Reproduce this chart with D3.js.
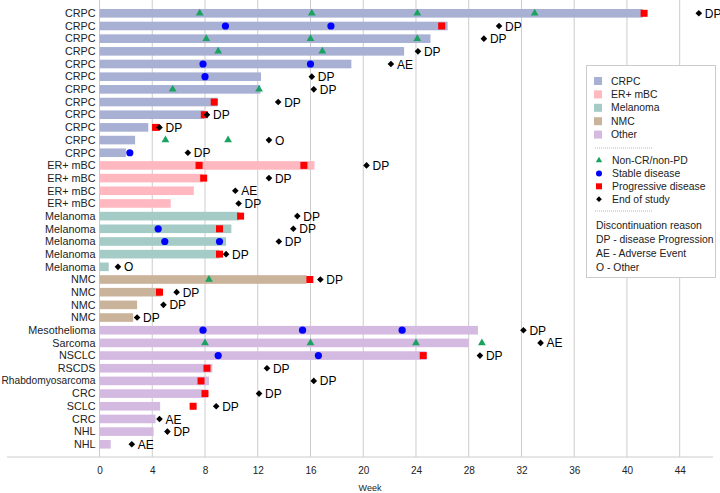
<!DOCTYPE html>
<html><head><meta charset="utf-8">
<script src="https://cdn.jsdelivr.net/npm/d3@7"></script>
<style>body{margin:0;background:#fff;}svg{display:block;font-family:"Liberation Sans",Arial,sans-serif;}</style>
</head><body><svg id="c" width="720" height="493"></svg>
<script>
const labels = ["CRPC","CRPC","CRPC","CRPC","CRPC","CRPC","CRPC","CRPC","CRPC","CRPC","CRPC","CRPC",
 "ER+ mBC","ER+ mBC","ER+ mBC","ER+ mBC",
 "Melanoma","Melanoma","Melanoma","Melanoma","Melanoma",
 "NMC","NMC","NMC","NMC",
 "Mesothelioma","Sarcoma","NSCLC","RSCDS","Rhabdomyosarcoma","CRC","SCLC","CRC","NHL","NHL"];
const groups = ["CRPC","CRPC","CRPC","CRPC","CRPC","CRPC","CRPC","CRPC","CRPC","CRPC","CRPC","CRPC",
 "ER+ mBC","ER+ mBC","ER+ mBC","ER+ mBC",
 "Melanoma","Melanoma","Melanoma","Melanoma","Melanoma",
 "NMC","NMC","NMC","NMC",
 "Other","Other","Other","Other","Other","Other","Other","Other","Other","Other"];
const barEnd = [41.2,26.4,25.1,23.1,19.1,12.25,12.2,8.95,7.95,3.7,2.7,2.0,
 16.3,7.85,7.15,5.4,
 10.6,10.0,9.6,9.1,0.7,
 15.7,4.7,2.85,2.55,
 28.7,28.0,24.8,8.55,8.3,8.2,4.6,4.25,4.1,0.85];
const triangles = [[7.6,16.1,24.1,33.0],[],[8.1,16.0,24.1],[9.0,16.9],[],[],[5.55,12.1],[],[],[],[5.0,9.75],[],
 [],[],[],[],
 [],[],[],[],[],
 [8.3],[],[],[],
 [],[8.0,16.0,24.0,29.0],[],[],[],[],[],[],[],[]];
const circles = [[],[9.55,17.55],[],[],[7.85,16.0],[8.0],[],[],[],[],[],[2.3],
 [],[],[],[],
 [],[4.45],[4.95,9.1],[],[],
 [],[],[],[],
 [7.85,15.4,22.95],[],[9.0,16.6],[],[],[],[],[],[],[]];
const squares = [[41.3],[25.95],[],[],[],[],[],[8.7],[7.95],[4.25],[],[],
 [7.55,15.5],[7.9],[],[],
 [10.7],[9.1],[],[9.1],[],
 [15.95],[4.55],[],[],
 [],[],[24.55],[8.15],[7.7],[8.0],[7.1],[],[],[]];
const endWeek = [45.45,30.3,29.15,24.15,22.1,16.1,16.25,13.55,8.15,4.55,12.85,6.7,
 20.25,12.85,10.3,10.55,
 15.0,14.7,13.6,9.6,1.4,
 16.75,5.85,4.85,2.85,
 32.15,33.45,28.85,12.7,16.25,12.1,8.85,4.55,5.15,2.45];
const endReason = ["DP","DP","DP","DP","AE","DP","DP","DP","DP","DP","O","DP",
 "DP","DP","AE","DP",
 "DP","DP","DP","DP","O",
 "DP","DP","DP","DP",
 "DP","AE","DP","DP","DP","DP","DP","AE","DP","AE"];
const xTicks = [0,4,8,12,16,20,24,28,32,36,40,44];
const groupNames = ["CRPC","ER+ mBC","Melanoma","NMC","Other"];
const groupColors = ["#a8b0d4","#ffb8c0","#a4cbc6","#c9b39b","#d4b9e1"];
const markerLegend = ["Non-CR/non-PD","Stable disease","Progressive disease","End of study"];
const reasonLegend = ["Discontinuation reason","DP - disease Progression","AE - Adverse Event","O - Other"];

const svg = d3.select("#c");
const x = d3.scaleLinear().domain([0,44]).range([99.5,679.7]);
const y = d3.scalePoint().domain(d3.range(labels.length)).range([13.3,444.3]);
const color = d3.scaleOrdinal().domain(groupNames).range(groupColors);
const baseY = 457;

// grid
svg.append("g").selectAll("line").data(xTicks).join("line")
  .attr("x1",d=>x(d)).attr("x2",d=>x(d)).attr("y1",0).attr("y2",baseY)
  .attr("stroke","#cccccc").attr("stroke-width",1);
svg.append("line").attr("x1",7).attr("x2",713).attr("y1",baseY).attr("y2",baseY).attr("stroke","#cccccc");

// axis tick labels
const ax = d3.axisBottom(x).tickValues(xTicks).tickSize(0).tickPadding(10);
const axg = svg.append("g").attr("transform",`translate(0,${baseY})`).call(ax);
axg.select(".domain").remove();
axg.selectAll("text").attr("font-size",10).attr("fill","#222").attr("font-family","Liberation Sans, Arial, sans-serif");
svg.append("text").attr("x",370).attr("y",491).attr("text-anchor","middle").attr("font-size",9).attr("fill","#222").text("Week");

// row labels
svg.append("g").selectAll("text").data(labels).join("text")
  .attr("x",95.5).attr("y",(d,i)=>y(i)).attr("dy","0.35em").attr("text-anchor","end")
  .attr("font-size",d=>d.length>14?10.2:10.8).attr("fill","#222").text(d=>d);

// bars
const bh = 8.6;
svg.append("g").selectAll("rect").data(barEnd).join("rect")
  .attr("x",x(0)).attr("y",(d,i)=>y(i)-bh/2).attr("width",d=>x(d)-x(0)).attr("height",bh)
  .attr("fill",(d,i)=>color(groups[i]));

const tri = d3.symbol().type(d3.symbolTriangle).size(26);
const dia = d3.symbol().type(d3.symbolSquare).size(22);

triangles.forEach((arr,i)=>arr.forEach(v=>{
  svg.append("path").attr("d",tri).attr("transform",`translate(${x(v)},${y(i)})`).attr("fill","#1aa260");
}));
circles.forEach((arr,i)=>arr.forEach(v=>{
  svg.append("circle").attr("cx",x(v)).attr("cy",y(i)).attr("r",3.6).attr("fill","#0000ff");
}));
squares.forEach((arr,i)=>arr.forEach(v=>{
  svg.append("rect").attr("x",x(v)-3.5).attr("y",y(i)-3.5).attr("width",7).attr("height",7).attr("fill","#ff0000");
}));
endWeek.forEach((v,i)=>{
  svg.append("path").attr("d",dia).attr("transform",`translate(${x(v)},${y(i)}) rotate(45)`).attr("fill","#000");
  svg.append("text").attr("x",x(v)+6).attr("y",y(i)).attr("dy","0.38em").attr("font-size",12).attr("fill","#000").text(endReason[i]);
});

// legend
const lg = svg.append("g");
lg.append("rect").attr("x",586.5).attr("y",65.5).attr("width",129).attr("height",212).attr("fill","#fff").attr("stroke","#cccccc");
groupNames.forEach((g,k)=>{
  const yy = 81 + k*13.4;
  lg.append("rect").attr("x",594).attr("y",yy-4).attr("width",8).attr("height",8).attr("fill",groupColors[k]);
  lg.append("text").attr("x",611).attr("y",yy).attr("dy","0.35em").attr("font-size",10.4).attr("fill","#222").text(g);
});
[148,211].forEach(yy=>lg.append("line").attr("x1",595).attr("x2",653).attr("y1",yy).attr("y2",yy)
  .attr("stroke","#888").attr("stroke-width",0.6).attr("stroke-dasharray","1,1"));
markerLegend.forEach((m,k)=>{
  const yy = 160.5 + k*12.9;
  const cx = 599;
  if(k===0) lg.append("path").attr("d",d3.symbol().type(d3.symbolTriangle).size(18)).attr("transform",`translate(${cx},${yy})`).attr("fill","#1aa260");
  if(k===1) lg.append("circle").attr("cx",cx).attr("cy",yy).attr("r",3).attr("fill","#0000ff");
  if(k===2) lg.append("rect").attr("x",cx-3).attr("y",yy-3).attr("width",6).attr("height",6).attr("fill","#ff0000");
  if(k===3) lg.append("path").attr("d",d3.symbol().type(d3.symbolSquare).size(16)).attr("transform",`translate(${cx},${yy}) rotate(45)`).attr("fill","#000");
  lg.append("text").attr("x",612).attr("y",yy).attr("dy","0.35em").attr("font-size",10.4).attr("fill","#222").text(m);
});
reasonLegend.forEach((r,k)=>{
  const yy = 225 + k*14;
  lg.append("text").attr("x",596).attr("y",yy).attr("dy","0.35em").attr("font-size",10.4).attr("fill","#222").text(r);
});
</script></body></html>
